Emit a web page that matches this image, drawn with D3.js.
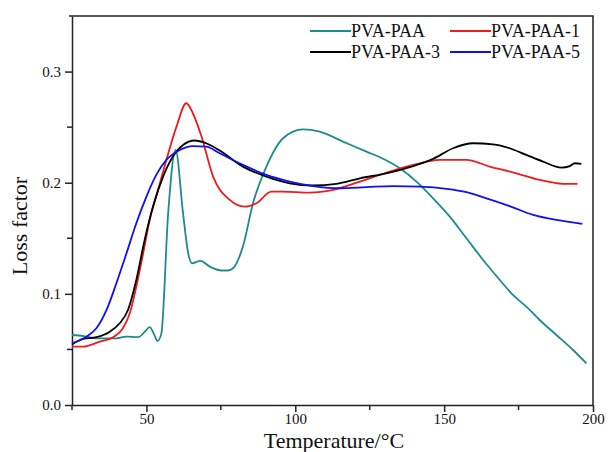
<!DOCTYPE html>
<html>
<head>
<meta charset="utf-8">
<script src="https://cdn.jsdelivr.net/npm/d3@7"></script>
<style>
  body { margin: 0; background: #fff; }
  text { font-family: "Liberation Serif", "Times New Roman", serif; fill: #111; }
</style>
</head>
<body>
<div id="chart"></div>
<script>
// Series data (temperature in °C, loss factor)
const seriesNames = ["PVA-PAA", "PVA-PAA-1", "PVA-PAA-3", "PVA-PAA-5"];
const seriesColors = ["#1b8c8c", "#ee1c1c", "#000000", "#1010ee"];

const tempPAA = [25, 29, 33.2, 39.9, 43.3, 47.2, 49.5, 51.1, 52.5, 53.7, 55.0, 57.3, 59.8, 62.3, 64.0, 65.3, 68.1, 71.3, 75.2, 77.4, 79.1, 82.4, 85.8, 90.3, 95.9, 102.6, 108.2, 116.0, 123.9, 129.5, 135.1, 140.7, 146.3, 151.9, 157.5, 163.1, 168.7, 173.1, 177.6, 182.1, 187.7, 193.3, 197.8];
const valPAA = [0.063, 0.062, 0.060, 0.060, 0.0615, 0.061, 0.066, 0.070, 0.064, 0.0576, 0.064, 0.1725, 0.2295, 0.1725, 0.137, 0.1275, 0.1296, 0.1245, 0.121, 0.121, 0.123, 0.1425, 0.1815, 0.2145, 0.240, 0.248, 0.246, 0.237, 0.228, 0.2215, 0.213, 0.201, 0.186, 0.1695, 0.150, 0.1305, 0.1125, 0.099, 0.0885, 0.0765, 0.063, 0.0495, 0.0375];

const tempPAA1 = [25, 28.7, 34.3, 38.8, 42.1, 44.4, 46.6, 48.9, 51.1, 53.9, 56.7, 60.1, 63.4, 65.6, 68.5, 72.4, 78.0, 83.0, 86.9, 92.0, 95.9, 104.8, 112.7, 121.7, 130.6, 139.6, 148.5, 157.5, 165.3, 174.3, 182.1, 189.9, 194.8];
const valPAA1 = [0.0525, 0.0525, 0.057, 0.061, 0.069, 0.0825, 0.1065, 0.1365, 0.1665, 0.1935, 0.2205, 0.2505, 0.2715, 0.2625, 0.2415, 0.2055, 0.1845, 0.1785, 0.1815, 0.192, 0.192, 0.191, 0.1935, 0.201, 0.209, 0.216, 0.2205, 0.2205, 0.2145, 0.2085, 0.2025, 0.199, 0.199];

const tempPAA3 = [25, 28.7, 33.2, 37.7, 41.0, 43.8, 46.6, 49.4, 52.2, 55.6, 58.9, 62.3, 66.2, 70.1, 74.6, 82.4, 90.3, 98.1, 106.0, 113.8, 121.7, 130.6, 139.6, 146.3, 153.0, 159.7, 166.4, 172.0, 177.6, 183.2, 189.4, 192.2, 193.9, 196.1];
const valPAA3 = [0.0545, 0.0594, 0.061, 0.066, 0.0735, 0.0855, 0.1125, 0.1485, 0.1785, 0.2055, 0.2235, 0.234, 0.238, 0.2355, 0.229, 0.2145, 0.2055, 0.1995, 0.1975, 0.199, 0.204, 0.2085, 0.215, 0.2215, 0.231, 0.2355, 0.2345, 0.231, 0.225, 0.219, 0.2136, 0.215, 0.2175, 0.217];

const tempPAA5 = [25, 29.8, 33.2, 36.6, 39.9, 43.3, 46.6, 50.0, 53.3, 56.7, 61.2, 65.6, 70.1, 74.6, 82.4, 90.3, 98.1, 106.0, 114.9, 123.9, 132.8, 141.8, 150.8, 157.5, 164.2, 172.0, 179.9, 187.7, 196.4];
const valPAA5 = [0.0555, 0.0615, 0.069, 0.0855, 0.1095, 0.1365, 0.1635, 0.1875, 0.207, 0.2205, 0.2295, 0.233, 0.2325, 0.2265, 0.216, 0.207, 0.201, 0.197, 0.195, 0.196, 0.197, 0.1965, 0.1945, 0.1915, 0.186, 0.179, 0.171, 0.1665, 0.163];

const xTicks = [50, 100, 150, 200];
const xMinorTicks = [25, 75, 125, 175];
const yTicks = [0.0, 0.1, 0.2, 0.3];
const yMinorTicks = [0.05, 0.15, 0.25];

function drawChart() {
  const width = 608;
  const height = 452;
  const margin = { left: 72, right: 15, top: 16, bottom: 47 };

  const svg = d3.select("#chart")
    .append("svg")
    .attr("width", width)
    .attr("height", height);

  const x = d3.scaleLinear().domain([25, 200]).range([margin.left, width - margin.right]);
  const y = d3.scaleLinear().domain([0, 0.35]).range([height - margin.bottom, margin.top]);

  const axisColor = "#222";

  //Frame (top and right)
  svg.append("path")
    .attr("d", `M${x(25) - 3},${y(0.35)}H${x(200)}V${y(0)}`)
    .attr("fill", "none")
    .attr("stroke", axisColor)
    .attr("stroke-width", 1.5);

  //Bottom axis
  const xAxis = svg.append("g")
    .attr("transform", `translate(0,${y(0)})`)
    .call(d3.axisBottom(x).tickValues(xTicks).tickSize(7).tickSizeOuter(0).tickFormat(d3.format("d")));
  xAxis.append("g").selectAll("line")
    .data(xMinorTicks)
    .join("line")
    .attr("x1", (d) => x(d)).attr("x2", (d) => x(d))
    .attr("y1", 0).attr("y2", 5)
    .attr("stroke", axisColor).attr("stroke-width", 1.5);

  //Left axis
  const yAxis = svg.append("g")
    .attr("transform", `translate(${x(25)},0)`)
    .call(d3.axisLeft(y).tickValues(yTicks).tickSize(7).tickSizeOuter(0).tickFormat(d3.format(".1f")));
  yAxis.append("g").selectAll("line")
    .data(yMinorTicks)
    .join("line")
    .attr("x1", 0).attr("x2", -5)
    .attr("y1", (d) => y(d)).attr("y2", (d) => y(d))
    .attr("stroke", axisColor).attr("stroke-width", 1.5);

  [xAxis, yAxis].forEach((g) => g
    .attr("font-family", "Liberation Serif")
    .attr("font-size", 15));

  svg.selectAll(".domain, .tick line")
    .attr("stroke", axisColor)
    .attr("stroke-width", 1.5);
  svg.selectAll(".tick text")
    .attr("fill", "#111")
    .style("font-family", "Liberation Serif")
    .style("font-size", "15px");
  xAxis.selectAll(".tick text").attr("y", 8).attr("dy", "0.71em");
  yAxis.selectAll(".tick text").attr("dx", "-1px");

  //Axis titles
  svg.append("text")
    .attr("x", 334)
    .attr("y", 448)
    .attr("text-anchor", "middle")
    .attr("font-size", "22px")
    .text("Temperature/°C");

  svg.append("text")
    .attr("transform", `translate(27,226) rotate(-90)`)
    .attr("text-anchor", "middle")
    .attr("font-size", "22px")
    .text("Loss factor");

  //Lines
  const seriesData = [
    d3.zip(tempPAA, valPAA),
    d3.zip(tempPAA1, valPAA1),
    d3.zip(tempPAA3, valPAA3),
    d3.zip(tempPAA5, valPAA5),
  ];

  const line = d3.line()
    .x((d) => x(d[0]))
    .y((d) => y(d[1]))
    .curve(d3.curveMonotoneX);

  svg.append("g")
    .selectAll("path")
    .data(seriesData)
    .join("path")
    .attr("d", line)
    .attr("fill", "none")
    .attr("stroke", (d, i) => seriesColors[i])
    .attr("stroke-width", 1.8);

  //Legend (2 columns x 2 rows)
  const legendCols = [310, 450];
  const legendRows = [31, 52];
  const legend = svg.append("g")
    .selectAll("g")
    .data(seriesNames)
    .join("g")
    .attr("transform", (d, i) => `translate(${legendCols[i % 2]},${legendRows[Math.floor(i / 2)]})`);

  legend.append("line")
    .attr("x1", 0).attr("x2", 41)
    .attr("y1", 0).attr("y2", 0)
    .attr("stroke", (d, i) => seriesColors[i])
    .attr("stroke-width", 2);

  legend.append("text")
    .attr("x", 41)
    .attr("y", 6)
    .attr("font-size", "18px")
    .text((d) => d);
}

drawChart();
</script>
</body>
</html>
